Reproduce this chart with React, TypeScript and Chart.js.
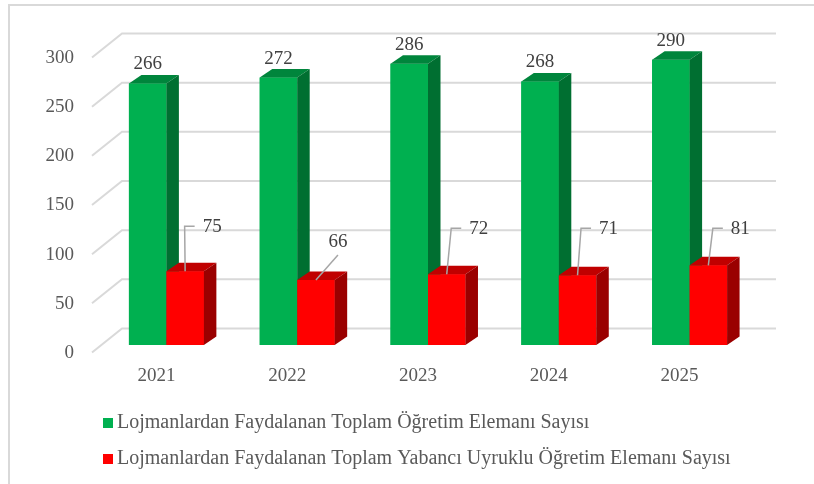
import React, { useEffect, useRef } from 'react';
import { Chart, registerables } from 'chart.js';

Chart.register(...registerables);

// ---- data ----
const categories = ['2021', '2022', '2023', '2024', '2025'];
const totalLabel = 'Lojmanlardan Faydalanan Toplam Öğretim Elemanı Sayısı';
const foreignLabel = 'Lojmanlardan Faydalanan Toplam Yabancı Uyruklu Öğretim Elemanı Sayısı';
const totalStaff = [266, 272, 286, 268, 290];
const foreignStaff = [75, 66, 72, 71, 81];
const yTickValues = [0, 50, 100, 150, 200, 250, 300];

// ---- label placement for the red series (callout nudges, px) ----
const foreignLabelShiftX = [27, 22, 32, 31, 32];
const foreignLabelShiftY = [-44, -38, -45, -46, -36];
const foreignLeaderElbow = [true, false, true, true, true];

// ---- styles ----
const FONT = '"Liberation Serif", "Times New Roman", serif';
const GREEN = '#00B050';
const GREEN_TOP = '#00853C';
const GREEN_SIDE = '#006F31';
const RED = '#FF0000';
const RED_TOP = '#C00000';
const RED_SIDE = '#9A0000';
const GRID = '#D9D9D9';
const TEXT = '#595959';
const LABEL = '#404040';
const DEPTH_X = 12.5;
const DEPTH_Y = 8.5;
const WALL_FRONT_X = -9;
const WALL_FRONT_Y = 7.5;
const WALL_BACK_X = 21;
const WALL_BACK_Y = -16.5;

const faceColors = [
  { top: GREEN_TOP, side: GREEN_SIDE },
  { top: RED_TOP, side: RED_SIDE },
];

const threeDPlugin = {
  id: 'threeD',
  beforeDraw(chart: any) {
    const { ctx, width, height } = chart;
    ctx.save();
    ctx.fillStyle = '#FFFFFF';
    ctx.fillRect(0, 0, width, height);
    ctx.strokeStyle = GRID;
    ctx.lineWidth = 2;
    ctx.beginPath();
    ctx.moveTo(9, height);
    ctx.lineTo(9, 5);
    ctx.lineTo(width, 5);
    ctx.stroke();
    ctx.restore();
  },
  beforeDatasetsDraw(chart: any) {
    const { ctx, chartArea, scales } = chart;
    const y = scales.y;
    ctx.save();
    ctx.strokeStyle = GRID;
    ctx.lineWidth = 2;
    for (const v of yTickValues) {
      const py = y.getPixelForValue(v);
      ctx.beginPath();
      ctx.moveTo(chartArea.left + WALL_FRONT_X, py + WALL_FRONT_Y);
      ctx.lineTo(chartArea.left + WALL_BACK_X, py + WALL_BACK_Y);
      ctx.lineTo(chartArea.right + WALL_BACK_X, py + WALL_BACK_Y);
      ctx.stroke();
    }
    ctx.restore();
  },
  afterDatasetsDraw(chart: any) {
    const { ctx } = chart;
    ctx.save();
    const metas = [chart.getDatasetMeta(0), chart.getDatasetMeta(1)];
    for (let i = 0; i < categories.length; i++) {
      metas.forEach((meta, d) => {
        const bar = meta.data[i];
        if (!bar) return;
        const { x, y, base, width } = bar.getProps(['x', 'y', 'base', 'width'], true);
        const l = x - width / 2;
        const r = x + width / 2;
        bar.draw(ctx);
        ctx.fillStyle = faceColors[d].top;
        ctx.beginPath();
        ctx.moveTo(l, y);
        ctx.lineTo(l + DEPTH_X, y - DEPTH_Y);
        ctx.lineTo(r + DEPTH_X, y - DEPTH_Y);
        ctx.lineTo(r, y);
        ctx.closePath();
        ctx.fill();
        ctx.fillStyle = faceColors[d].side;
        ctx.beginPath();
        ctx.moveTo(r, y);
        ctx.lineTo(r + DEPTH_X, y - DEPTH_Y);
        ctx.lineTo(r + DEPTH_X, base - DEPTH_Y);
        ctx.lineTo(r, base);
        ctx.closePath();
        ctx.fill();
      });
    }

    // data labels
    ctx.font = `19px ${FONT}`;
    ctx.fillStyle = LABEL;
    ctx.textAlign = 'center';
    ctx.textBaseline = 'middle';
    metas[0].data.forEach((bar: any, i: number) => {
      const { x, y } = bar.getProps(['x', 'y'], true);
      ctx.fillText(String(totalStaff[i]), x, y - 19);
    });
    metas[1].data.forEach((bar: any, i: number) => {
      const { x, y } = bar.getProps(['x', 'y'], true);
      const text = String(foreignStaff[i]);
      const lx = x + foreignLabelShiftX[i];
      const ly = y + foreignLabelShiftY[i];
      const w = ctx.measureText(text).width;
      const left = lx - w / 2;
      ctx.strokeStyle = '#A6A6A6';
      ctx.lineWidth = 1.5;
      ctx.beginPath();
      ctx.moveTo(x, y);
      if (foreignLeaderElbow[i]) {
        ctx.lineTo(left - 18, ly - 1);
        ctx.lineTo(left - 8, ly - 1);
      } else {
        ctx.lineTo(lx, ly + 13);
      }
      ctx.stroke();
      ctx.fillText(text, lx, ly);
    });
    ctx.restore();
  },
  afterDraw(chart: any) {
    const { ctx } = chart;
    ctx.save();
    const items = [
      { text: totalLabel, color: GREEN, y: 423 },
      { text: foreignLabel, color: RED, y: 459 },
    ];
    ctx.font = `20px ${FONT}`;
    ctx.textAlign = 'left';
    ctx.textBaseline = 'middle';
    for (const it of items) {
      ctx.fillStyle = it.color;
      ctx.fillRect(103, it.y - 5, 10, 10);
      ctx.fillStyle = TEXT;
      ctx.fillText(it.text, 117, it.y);
    }
    ctx.restore();
  },
};

export default function App() {
  const canvasRef = useRef<HTMLCanvasElement | null>(null);

  useEffect(() => {
    if (!canvasRef.current) return;
    const chart = new Chart(canvasRef.current, {
      type: 'bar',
      data: {
        labels: categories,
        datasets: [
          {
            label: totalLabel,
            data: totalStaff,
            backgroundColor: GREEN,
            borderWidth: 0,
            categoryPercentage: 0.573,
            barPercentage: 1.0,
          },
          {
            label: foreignLabel,
            data: foreignStaff,
            backgroundColor: RED,
            borderWidth: 0,
            categoryPercentage: 0.573,
            barPercentage: 1.0,
          },
        ],
      },
      options: {
        responsive: false,
        animation: false,
        devicePixelRatio: 1,
        layout: { padding: { top: 50, left: 45, right: 59, bottom: 96 } },
        plugins: {
          legend: { display: false },
          tooltip: { enabled: false },
        },
        scales: {
          x: {
            grid: { display: false, drawTicks: false },
            border: { display: false },
            ticks: {
              color: TEXT,
              font: { family: FONT, size: 19 },
              padding: 20,
              labelOffset: -10,
              maxRotation: 0,
              autoSkip: false,
            },
            afterFit(scale: any) {
              scale.height = 43;
            },
          },
          y: {
            min: 0,
            max: 300,
            grid: { display: false, drawTicks: false },
            border: { display: false },
            ticks: {
              stepSize: 50,
              color: TEXT,
              font: { family: FONT, size: 19 },
              padding: 27,
              labelOffset: 8,
            },
            afterFit(scale: any) {
              scale.width = 56;
            },
          },
        },
      },
      plugins: [threeDPlugin],
    });
    return () => chart.destroy();
  }, []);

  return (
    <div style={{ position: 'fixed', left: 0, top: 0, width: 814, height: 484, background: '#fff' }}>
      <canvas ref={canvasRef} width={814} height={484} style={{ display: 'block' }} />
    </div>
  );
}
